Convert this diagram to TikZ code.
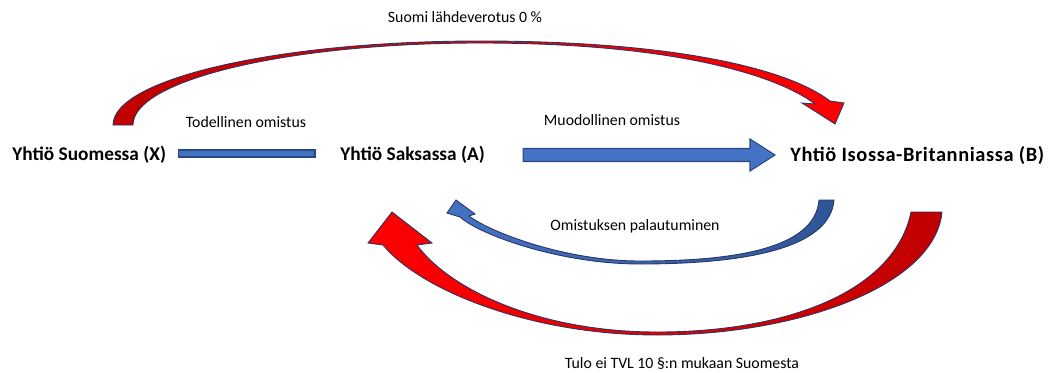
\documentclass[tikz,border=0pt]{standalone}
\usepackage{fontspec}
\setmainfont{Carlito}
\usetikzlibrary{positioning, calc}
\definecolor{darkred}{RGB}{192,0,0}
\definecolor{brightred}{RGB}{255,0,0}
\definecolor{arrowblue}{RGB}{68,114,196}
\definecolor{deepblue}{RGB}{47,85,151}
\definecolor{edgenavy}{RGB}{40,55,100}

\begin{document}
\begin{tikzpicture}[
  x=0.02cm, y=-0.02cm,
  company/.style={font=\bfseries\fontsize{11}{13}\selectfont, inner sep=0pt, anchor=west},
  tag/.style={font=\fontsize{9}{11}\selectfont, inner sep=0pt},
  arcedge/.style={draw=edgenavy, line width=0.5pt},
  blueshape/.style={draw=deepblue!85!black, fill=arrowblue, line width=0.6pt}
]
  \useasboundingbox (0,0) rectangle (1053,372);

  \node[company] (X) at (12,155) {Yhtiö Suomessa (X)};
  \node[company] (A) at (340,155) {Yhtiö Saksassa (A)};
  \node[company, font=\bfseries\fontsize{11.6}{14}\selectfont\addfontfeature{LetterSpace=3}] (B) at (790,155) {Yhtiö Isossa-Britanniassa (B)};

  \node[tag] (own) at (246,122) {Todellinen omistus};
  \node[tag] (formal) at (612,120) {Muodollinen omistus};
  \node[tag] (tax) at (465,17) {Suomi lähdeverotus 0 \%};
  \node[tag] (back) at (635,226) {Omistuksen palautuminen};
  \node[tag] (income) at (682,363) {Tulo ei TVL 10 §:n mukaan Suomesta};

  \draw[blueshape] ($(X.east)+(12,-5)$) rectangle ($(A.west)+(-25,2)$);

  \coordinate (fs) at ($(A.east)+(38,0)$);
  \coordinate (ft) at ($(B.west)+(-15,0)$);
  \draw[blueshape] ($(fs)+(0,-6.5)$) -- ($(ft)+(-25,-6.5)$) -- ($(ft)+(-25,-16)$)
    -- (ft) -- ($(ft)+(-25,16)$) -- ($(ft)+(-25,6.5)$) -- ($(fs)+(0,6.5)$) -- cycle;

  \draw[arcedge, left color=darkred, right color=brightred]
    (113,125) .. controls (113,79) and (277,41) .. (480,41)
    .. controls (680,41) and (790,70) .. (830,101)
    -- (844,103) -- (835,124) -- (802,103) -- (815,104)
    .. controls (775,74) and (670,43) .. (480,43)
    .. controls (288,43) and (133,80) .. (133,125) -- cycle;

  \draw[arcedge, left color=brightred, right color=darkred]
    (942,212) .. controls (935,285) and (800,335) .. (657,335)
    .. controls (530,335) and (420,290) .. (383,245)
    -- (368,243) -- (392,212) -- (432,243) -- (417,245)
    .. controls (450,290) and (540,332) .. (657,332)
    .. controls (790,332) and (895,290) .. (911,212) -- cycle;

  \draw[arcedge, left color=arrowblue, right color=deepblue]
    (834,200) .. controls (830,250) and (740,264) .. (640,264)
    .. controls (560,264) and (480,235) .. (460,217)
    -- (447,213) -- (456,200) -- (475,214) -- (469,216)
    .. controls (490,232) and (565,261) .. (640,261)
    .. controls (730,261) and (815,250) .. (819,200) -- cycle;
\end{tikzpicture}
\end{document}
